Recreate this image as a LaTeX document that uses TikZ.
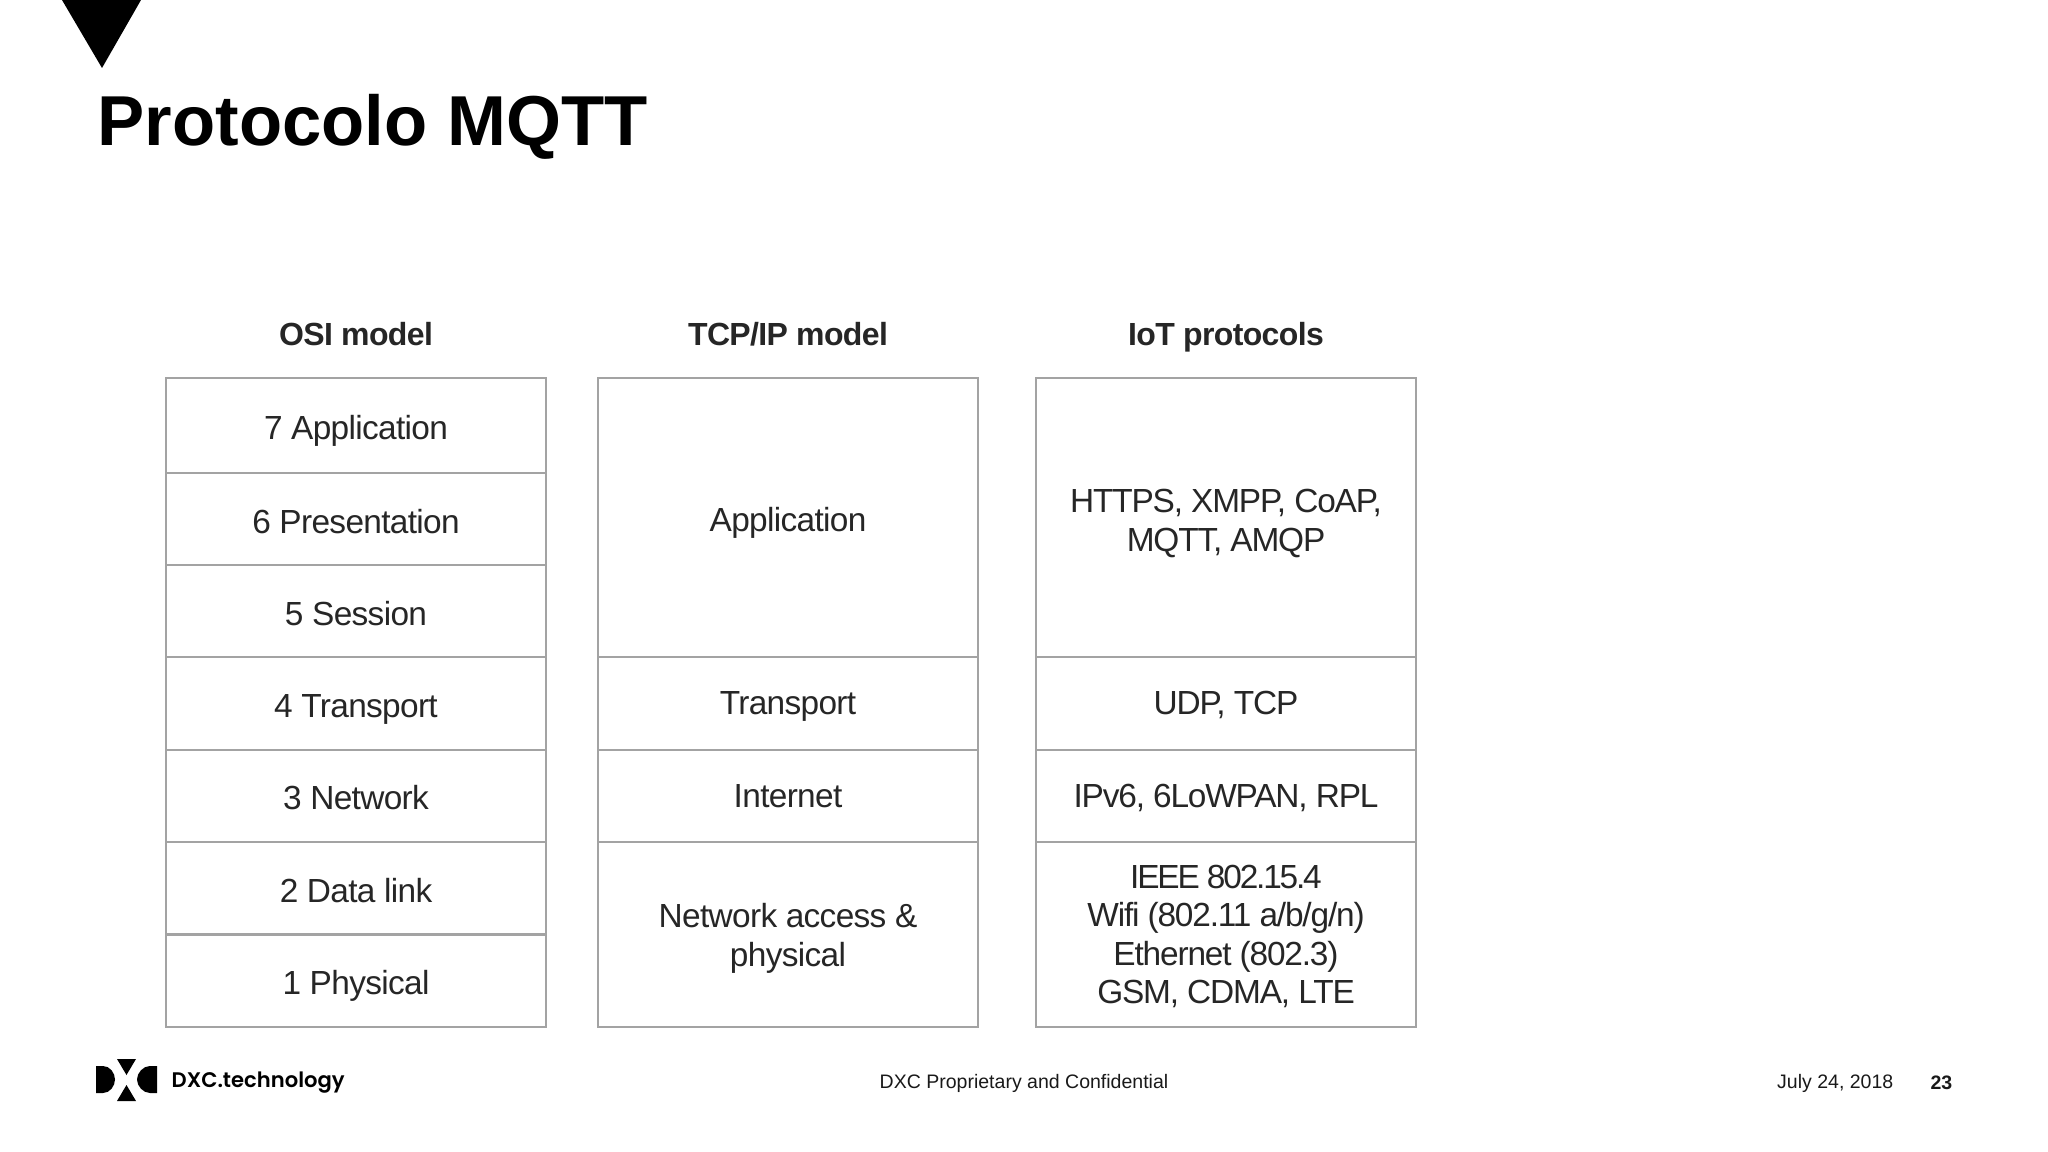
\documentclass[tikz,border=0pt]{standalone}
\usepackage{fontspec}
\setmainfont{Liberation Sans}
\newfontfamily\layerfont[LetterSpace=-2.0]{Liberation Sans}
\newfontfamily\iotfont[LetterSpace=-3.5]{Liberation Sans}
\newfontfamily\logofont{Poppins SemiBold}
\definecolor{boxgray}{HTML}{A3A3A3}
\tikzset{
  layer/.style={draw=boxgray,line width=0.6pt,fill=white,inner sep=0pt,align=center,text height=9.7pt,text depth=1.5pt,font=\layerfont\fontsize{9.5}{11}\selectfont,text=black!85},
  iotlayer/.style={layer,font=\iotfont\fontsize{9.5}{10.9}\selectfont},
  heading/.style={inner sep=0pt,text height=7pt,text depth=2pt,font=\layerfont\bfseries\fontsize{9.1}{11}\selectfont,text=black!85},
  footnote/.style={inner sep=0pt,font=\fontsize{5.55}{7}\selectfont,text=black!90},
}
\begin{document}
\begin{tikzpicture}[x=0.01cm,y=-0.01cm]
  \useasboundingbox (0,0) rectangle (2048,1152);
  \fill (62,0)--(141,0)--(102,68)--cycle;
  \node[anchor=base west,inner sep=0pt,font=\bfseries\fontsize{20.1}{24}\selectfont] (title) at (97,146) {Protocolo MQTT};
  % headings
  \node[heading] (osi) at (356,337) {OSI model};
  \node[heading] (tcp) at (788,337) {TCP/IP model};
  \node[heading] (iot) at (1226,337) {IoT protocols};
  % OSI column
  \node[layer,minimum width=3.80cm,minimum height=0.955cm] (osi7) at (356,425.5) {7 Application};
  \node[layer,minimum width=3.80cm,minimum height=0.925cm] (osi6) at (356,519) {6 Presentation};
  \node[layer,minimum width=3.80cm,minimum height=0.925cm] (osi5) at (356,611) {5 Session};
  \node[layer,minimum width=3.80cm,minimum height=0.93cm] (osi4) at (356,703.5) {4 Transport};
  \node[layer,minimum width=3.80cm,minimum height=0.92cm,text height=9pt] (osi3) at (356,796) {3 Network};
  \node[layer,minimum width=3.80cm,minimum height=0.925cm] (osi2) at (356,888) {2 Data link};
  \node[layer,minimum width=3.80cm,minimum height=0.925cm,text height=9pt] (osi1) at (356,981) {1 Physical};
  % TCP/IP column
  \node[layer,minimum width=3.80cm,minimum height=2.795cm] (tcp4) at (788,517.5) {Application};
  \node[layer,minimum width=3.80cm,minimum height=0.93cm,text height=7.5pt] (tcp3) at (788,703.5) {Transport};
  \node[layer,minimum width=3.80cm,minimum height=0.92cm,text height=8.2pt] (tcp2) at (788,796) {Internet};
  \node[layer,minimum width=3.80cm,minimum height=1.85cm,text height=19.6pt] (tcp1) at (788,934.5) {Network access \&\\physical};
  % IoT column
  \node[iotlayer,minimum width=3.80cm,minimum height=2.795cm,text height=20.7pt] (iot4) at (1226,517.5) {HTTPS, XMPP, CoAP,\\MQTT, AMQP};
  \node[iotlayer,minimum width=3.80cm,minimum height=0.93cm,text height=7.5pt] (iot3) at (1226,703.5) {UDP, TCP};
  \node[iotlayer,minimum width=3.80cm,minimum height=0.92cm,text height=8.2pt] (iot2) at (1226,796) {IPv6, 6LoWPAN, RPL};
  \node[iotlayer,minimum width=3.80cm,minimum height=1.85cm,text height=40.7pt] (iot1) at (1226,934.5) {\addfontfeature{LetterSpace=-6.5}IEEE 802.15.4\\Wifi (802.11 a/b/g/n)\\Ethernet (802.3)\\GSM, CDMA, LTE};
  % footer
  \fill (96,1066)--(103,1066) .. controls (110,1066) and (115,1073) .. (115,1079.5) .. controls (115,1086) and (110,1093) .. (103,1093)--(96,1093)--cycle;
  \fill (157,1066)--(150,1066) .. controls (143,1066) and (137,1073) .. (137,1079.5) .. controls (137,1086) and (143,1093) .. (150,1093)--(157,1093)--cycle;
  \fill (117,1059)--(136,1059)--(126.5,1075)--cycle;
  \fill (117,1101)--(136,1101)--(126.5,1085)--cycle;
  \node[anchor=west,inner sep=0pt,font=\logofont\fontsize{6.0}{8}\selectfont] (logo) at (171,1083) {DXC.technology};
  \node[footnote] (conf) at (1024,1083) {DXC Proprietary and Confidential};
  \node[footnote,anchor=east] (date) at (1894,1083) {July 24, 2018};
  \node[footnote,anchor=east,font=\bfseries\fontsize{5.55}{7}\selectfont] (page) at (1953,1083) {23};
\end{tikzpicture}
\end{document}
